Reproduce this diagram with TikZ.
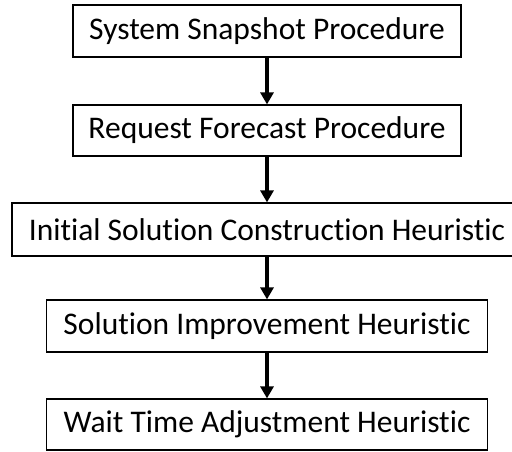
\documentclass[tikz,border=0pt]{standalone}
\usepackage{fontspec}
\setmainfont{Carlito}[Ligatures=NoCommon]
\usetikzlibrary{arrows.meta}
\usetikzlibrary{calc}

\tikzset{
  procbox/.style={rectangle, draw, line width=1.2pt, inner sep=0pt, font=\fontsize{31.5}{36}\selectfont},
  flowarrow/.style={line width=3.6pt, -{Triangle[length=12pt, width=13pt]}}
}

\begin{document}
\begin{tikzpicture}[x=1pt, y=-1pt]
      \useasboundingbox (0, 0) rectangle (512, 451);

      \node[procbox, minimum width=388pt, minimum height=52pt] (snapshot) at (267, 31) {System Snapshot Procedure};
      \node[procbox, minimum width=388pt, minimum height=51pt] (forecast) at (267, 130.5) {Request Forecast Procedure};
      \node[procbox, minimum width=510pt, minimum height=53pt] (initial) at (267, 229.5) {Initial Solution Construction Heuristic};
      \node[procbox, minimum width=441pt, minimum height=52pt] (improve) at (267, 326) {Solution Improvement Heuristic};
      \node[procbox, minimum width=441pt, minimum height=51pt] (waittime) at (267, 424.5) {Wait Time Adjustment Heuristic};

      \draw[flowarrow] (snapshot) -- (forecast);
      \draw[flowarrow] (forecast) -- (initial);
      \draw[flowarrow] (initial) -- (improve);
      \draw[flowarrow] (improve) -- (waittime);
    \end{tikzpicture}
\end{document}
